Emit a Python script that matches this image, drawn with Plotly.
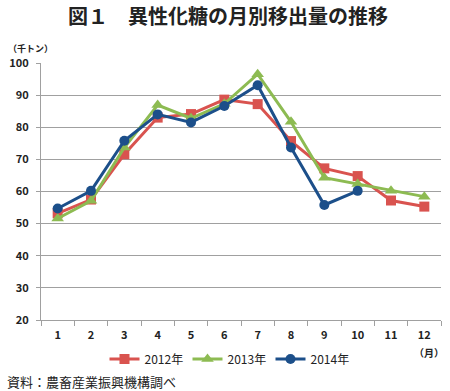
import plotly.graph_objects as go

months = ["1", "2", "3", "4", "5", "6", "7", "8", "9", "10", "11", "12"]
s2012 = [53.2, 57.5, 71.6, 83.0, 84.1, 88.6, 87.2, 75.7, 67.2, 64.8, 57.2, 55.3]
s2013 = [51.6, 57.1, 73.7, 86.9, 82.8, 87.3, 96.5, 81.7, 64.3, 62.3, 60.2, 58.4]
s2014 = [54.7, 60.2, 75.8, 84.0, 81.5, 86.6, 93.1, 73.7, 55.8, 60.2, None, None]
y_ticks = [20, 30, 40, 50, 60, 70, 80, 90, 100]

FONT = "Noto Sans CJK JP"
W, H = 450, 391
L, R, T, B = 37, 9, 63, 71

fig = go.Figure()
series = [
    ("2012年", s2012, "#d9534f", "square"),
    ("2013年", s2013, "#8dbb52", "triangle-up"),
    ("2014年", s2014, "#1c4f8a", "circle"),
]
for name, ys, col, sym in series:
    fig.add_trace(go.Scatter(
        x=months, y=ys, name=name, mode="lines+markers",
        line=dict(color=col, width=3),
        marker=dict(symbol=sym, size=10 if sym != "triangle-up" else 11, color=col),
        connectgaps=False,
    ))

fig.update_layout(
    width=W, height=H,
    margin=dict(l=L, r=R, t=T, b=B, pad=0),
    paper_bgcolor="white", plot_bgcolor="white",
    font=dict(family=FONT, color="#222222"),
    showlegend=True,
    legend=dict(orientation="h", x=0.47, xanchor="center",
                y=(H - B - 359) / (H - T - B), yanchor="middle",
                font=dict(size=12, family=FONT, color="#222"),
                itemwidth=30, tracegroupgap=0, entrywidth=38,
                bgcolor="rgba(0,0,0,0)"),
    xaxis=dict(type="category", range=[-0.5, 11.5], tickson="boundaries",
               ticks="outside", ticklen=5, tickcolor="#a0a0a0",
               showline=True, linecolor="#a0a0a0", linewidth=1,
               showgrid=False,
               tickfont=dict(size=11, family=FONT, color="#222", weight="bold"),
               ticklabelstandoff=5, fixedrange=True),
    yaxis=dict(range=[20, 100], tickvals=y_ticks, ticks="outside", ticklen=4,
               tickcolor="#a0a0a0", showline=True, linecolor="#a0a0a0",
               linewidth=1, showgrid=True, gridcolor="#a0a0a0", gridwidth=1,
               zeroline=False,
               tickfont=dict(size=11, family=FONT, color="#222", weight="bold"),
               ticklabelstandoff=5),
)

fig.add_annotation(text="<b>図１　異性化糖の月別移出量の推移</b>", xref="paper", yref="paper",
                   x=(226 - L) / (W - L - R), y=(H - B - 15) / (H - T - B),
                   xanchor="center", yanchor="middle", showarrow=False,
                   font=dict(size=20, family=FONT, color="#222"))
fig.add_annotation(text="<b>（千トン）</b>", xref="paper", yref="paper",
                   x=(2 - L) / (W - L - R), y=(H - B - 49) / (H - T - B),
                   xanchor="left", yanchor="middle", showarrow=False,
                   font=dict(size=9, family=FONT, color="#222"))
fig.add_annotation(text="<b>（月）</b>", xref="paper", yref="paper",
                   x=(446 - L) / (W - L - R), y=(H - B - 352) / (H - T - B),
                   xanchor="right", yanchor="middle", showarrow=False,
                   font=dict(size=10, family=FONT, color="#222"))
fig.add_annotation(text="資料：農畜産業振興機構調べ", xref="paper", yref="paper",
                   x=(1 - L) / (W - L - R), y=(H - B - 381) / (H - T - B),
                   xanchor="left", yanchor="middle", showarrow=False,
                   font=dict(size=13, family=FONT, color="#222"))

fig.write_html("out.html", config={"displayModeBar": False},
               post_script="document.body.style.margin='0';document.body.style.overflow='hidden';")
